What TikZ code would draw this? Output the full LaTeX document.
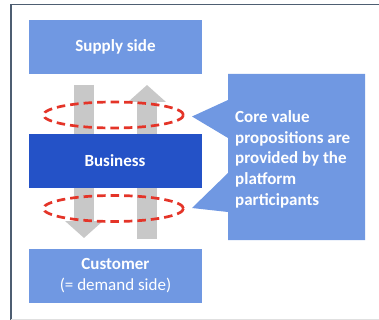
\documentclass[tikz,border=0pt]{standalone}
\usepackage{fontspec}
\setmainfont{Carlito}
\usetikzlibrary{arrows.meta,shapes.geometric}
\definecolor{lightblue}{RGB}{112,152,226}
\definecolor{darkblue}{RGB}{36,82,199}
\definecolor{flowgray}{RGB}{200,200,200}
\definecolor{ringred}{RGB}{228,52,40}
\definecolor{framecol}{RGB}{78,94,114}
\tikzset{
  sidebox/.style={fill=lightblue, draw=none, minimum width=173pt, minimum height=54pt,
    inner sep=0pt, text=white, align=center, font=\fontsize{17}{21}\selectfont},
  corebox/.style={sidebox, fill=darkblue},
  flow/.style={draw=flowgray, line width=20pt, line cap=butt,
    -{Triangle[length=17pt,width=37pt]}},
  ring/.style={draw=ringred, ellipse, line width=2.7pt, dash pattern=on 8.5pt off 5pt,
    minimum width=140pt, minimum height=26pt, inner sep=0pt},
  calloutshape/.style={fill=lightblue, draw=none},
  callouttext/.style={text=white, align=left, inner sep=0pt,
    font=\bfseries\fontsize{17}{20.6}\selectfont}
}
\begin{document}
\begin{tikzpicture}[x=1pt,y=-1pt]
  \useasboundingbox (0,0) rectangle (379,320);
  % frame
  \draw[framecol, line width=1.5pt] (379,4.7) -- (11,4.7) -- (11,320);
  \draw[black!12, line width=1pt] (11,319) -- (379,319);

  % outer boxes
  \node[sidebox] (supply) at (115.5,47) {\bfseries Supply side};
  \node[sidebox] (customer) at (115.5,276) {\bfseries Customer\\(= demand side)};

  % flows through the business
  \coordinate (down-start) at (84,85);
  \coordinate (down-end) at (84,238);
  \coordinate (up-start) at (147,239);
  \coordinate (up-end) at (147,85);
  \draw[flow] (down-start) -- (down-end);
  \draw[flow] (up-start) -- (up-end);

  % business layer
  \node[corebox] (business) at (115,161) {\bfseries Business};

  % interaction rings
  \node[ring] (ringtop) at (113.5,115) {};
  \node[ring] (ringbottom) at (113.5,208.5) {};

  % callout with two pointers
  \path[calloutshape] (228,74) -- (365,74) -- (365,240) -- (228,240) -- (228,212)
    -- (192,208) -- (228,173) -- (228,138) -- (192,116.5) -- (228,100) -- cycle;
  \node[callouttext, anchor=north west] (callout) at (235,110.5)
    {Core value\\propositions are\\provided by the\\platform\\participants};
\end{tikzpicture}
\end{document}
